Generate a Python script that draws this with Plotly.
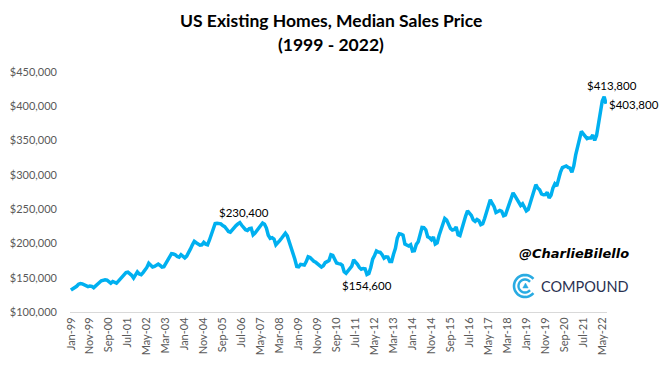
import numpy as np
import plotly.graph_objects as go

# ---------------- data ----------------
months = ["Jan", "Feb", "Mar", "Apr", "May", "Jun", "Jul", "Aug", "Sep", "Oct", "Nov", "Dec"]
years = list(range(1999, 2023))

price_1999 = [132000, 133500, 135000, 137500, 140500, 141500, 141000, 140000, 138000, 137000, 138000, 137500]
price_2000 = [135500, 137500, 140000, 143000, 145500, 146500, 147000, 146500, 143500, 142000, 144500, 143500]
price_2001 = [142000, 145000, 148500, 151500, 154500, 157500, 158000, 156000, 153500, 149500, 153500, 158500]
price_2002 = [155500, 154500, 157500, 160500, 165000, 171000, 168000, 165500, 166500, 168500, 170000, 168000]
price_2003 = [165500, 166000, 170500, 174500, 180000, 185000, 184500, 183500, 181000, 180000, 183500, 181000]
price_2004 = [179000, 181500, 186000, 192000, 198000, 203000, 201000, 198500, 197500, 198000, 201500, 199000]
price_2005 = [198000, 205000, 213000, 222000, 229000, 229500, 229000, 228500, 226000, 224500, 221000, 217500]
price_2006 = [216500, 220000, 224500, 226000, 228500, 230400, 226500, 222500, 220000, 219000, 221500, 222000]
price_2007 = [212500, 215000, 218500, 223000, 226500, 229800, 228000, 222500, 212000, 207500, 208500, 206500]
price_2008 = [198000, 200500, 204000, 207500, 211500, 215000, 211000, 203000, 193500, 187000, 177000, 166500]
price_2009 = [166000, 169500, 169000, 168500, 173500, 180500, 179500, 176000, 174000, 172500, 170000, 169000]
price_2010 = [165500, 167500, 172000, 173500, 175000, 183500, 182500, 177000, 171500, 170500, 170000, 168000]
price_2011 = [158800, 156500, 160500, 163500, 167000, 176000, 173500, 169500, 165000, 162500, 163500, 163000]
price_2012 = [154600, 156000, 165000, 177000, 182500, 189000, 187500, 187000, 183500, 178500, 180500, 180000]
price_2013 = [173600, 173600, 184300, 192800, 208000, 214200, 213500, 212100, 199200, 197400, 196300, 198000]
price_2014 = [188900, 189400, 198600, 202400, 213600, 223300, 222900, 219800, 209700, 208300, 205300, 209500]
price_2015 = [199200, 200800, 211600, 220700, 228700, 236400, 234000, 228700, 221900, 219600, 220300, 223900]
price_2016 = [212800, 211500, 222400, 232500, 239900, 247600, 244100, 240900, 234200, 232200, 234900, 233200]
price_2017 = [227300, 228700, 236400, 244800, 252800, 263800, 258300, 253500, 245100, 247000, 248000, 246800]
price_2018 = [240500, 241700, 250400, 257900, 264800, 273800, 269300, 264800, 258100, 255400, 257900, 253600]
price_2019 = [247500, 249500, 259400, 267300, 277700, 285700, 280800, 278200, 272100, 270900, 271300, 274500]
price_2020 = [266300, 270100, 280700, 286800, 283500, 295300, 304100, 310600, 311800, 313000, 310800, 309800]
price_2021 = [303900, 313000, 329100, 341600, 350300, 363300, 359900, 356700, 352800, 353900, 353900, 358000]
price_2022 = [350300, 357300, 375300, 391200, 407600, 413800, 403800]

yearly = [price_1999, price_2000, price_2001, price_2002, price_2003, price_2004,
          price_2005, price_2006, price_2007, price_2008, price_2009, price_2010,
          price_2011, price_2012, price_2013, price_2014, price_2015, price_2016,
          price_2017, price_2018, price_2019, price_2020, price_2021, price_2022]

labels, values = [], []
for yr, vals in zip(years, yearly):
    for m, v in zip(months, vals):
        labels.append(f"{m}-{str(yr)[2:]}")
        values.append(v)

tick_labels = labels[::10]
y_ticks = [100000, 150000, 200000, 250000, 300000, 350000, 400000, 450000]

annotated = ["Jun-06", "Jan-12", "Jun-22", "Jul-22"]

# ---------------- geometry ----------------
W, H = 661, 365
L, R, T, B = 70, 607, 72, 312

def px(x):
    return (x - L) / (R - L)

def py(y):
    return (B - y) / (B - T)

line_color = "#00b0f0"
text_color = "#000000"
tick_color = "#595959"
font_main = "Lato, Calibri, Carlito, sans-serif"

fig = go.Figure()
fig.add_trace(go.Scatter(
    x=labels, y=values, mode="lines",
    line=dict(color=line_color, width=3.5, shape="linear"),
    hoverinfo="x+y", showlegend=False,
))

annotations = []
offsets = {
    "Jun-06": dict(xshift=4, yshift=2, xanchor="center", yanchor="bottom"),
    "Jan-12": dict(xshift=0, yshift=-2, xanchor="center", yanchor="top"),
    "Jun-22": dict(xshift=8, yshift=3, xanchor="center", yanchor="bottom"),
    "Jul-22": dict(xshift=1, yshift=-1, xanchor="left", yanchor="middle"),
}
for lab in annotated:
    v = values[labels.index(lab)]
    o = offsets[lab]
    annotations.append(dict(
        x=lab, y=v, xref="x", yref="y", text=f"${v:,}", showarrow=False,
        font=dict(family=font_main, size=11.5, color=text_color),
        **o,
    ))

# title as two annotations in pixel-derived paper coordinates
annotations.append(dict(
    x=px(331), y=py(20), xref="paper", yref="paper", xanchor="center", yanchor="middle",
    text="<b>US Existing Homes, Median Sales Price</b>", showarrow=False,
    font=dict(family=font_main, size=17.5, color="#000000"),
))
annotations.append(dict(
    x=px(331), y=py(45), xref="paper", yref="paper", xanchor="center", yanchor="middle",
    text="<b>(1999 - 2022)</b>", showarrow=False,
    font=dict(family=font_main, size=17.5, color="#000000"),
))

annotations.append(dict(
    x=px(574), y=py(253), xref="paper", yref="paper",
    text="<b><i>@CharlieBilello</i></b>", showarrow=False,
    font=dict(family="DejaVu Sans, sans-serif", size=13, color="#000000"),
    xanchor="center", yanchor="middle",
))
annotations.append(dict(
    x=px(539), y=py(286), xref="paper", yref="paper",
    text="COMPOUND", showarrow=False,
    font=dict(family="Lato, sans-serif", size=14.5, color="#2b3151"),
    xanchor="left", yanchor="middle",
))

# logo: concentric open arcs + small triangle
shapes = []
cx, cy = 525, 286
for r, w in [(11, 2.6), (6.5, 2.4)]:
    th = np.linspace(np.radians(40), np.radians(320), 40)
    pts = [(px(cx + r * np.cos(t)), py(cy - r * np.sin(t))) for t in th]
    path = "M " + " L ".join(f"{a:.5f},{b:.5f}" for a, b in pts)
    shapes.append(dict(type="path", path=path, xref="paper", yref="paper",
                       line=dict(color="#29abe2", width=w)))
tri = [(cx + 0.5, cy - 3), (cx + 3.2, cy + 2), (cx - 2.2, cy + 2)]
path = "M " + " L ".join(f"{px(a):.5f},{py(b):.5f}" for a, b in tri) + " Z"
shapes.append(dict(type="path", path=path, xref="paper", yref="paper",
                   fillcolor="#29abe2", line=dict(color="#29abe2", width=0.5)))

fig.update_layout(
    width=W, height=H,
    margin=dict(l=L, r=W - R, t=T, b=H - B, autoexpand=False),
    paper_bgcolor="white", plot_bgcolor="white",
    xaxis=dict(
        type="category", range=[-0.5, len(labels) - 0.5], automargin=False,
        tickmode="array", tickvals=tick_labels, ticktext=tick_labels,
        tickangle=-90, showgrid=False, zeroline=False,
        showline=True, linecolor="#d9d9d9", linewidth=1,
        ticks="", tickfont=dict(family=font_main, size=11, color=tick_color),
    ),
    yaxis=dict(
        range=[100000, 450000], tickmode="array", tickvals=y_ticks, automargin=False,
        ticktext=[f"${v:,}" for v in y_ticks],
        showgrid=False, zeroline=False, showline=False, ticks="",
        ticklabelstandoff=12,
        tickfont=dict(family=font_main, size=11, color=tick_color),
    ),
    annotations=annotations,
    shapes=shapes,
    showlegend=False,
)

fig.write_html("out.html", config={"displayModeBar": False},
               post_script="document.body.style.margin='0';")
